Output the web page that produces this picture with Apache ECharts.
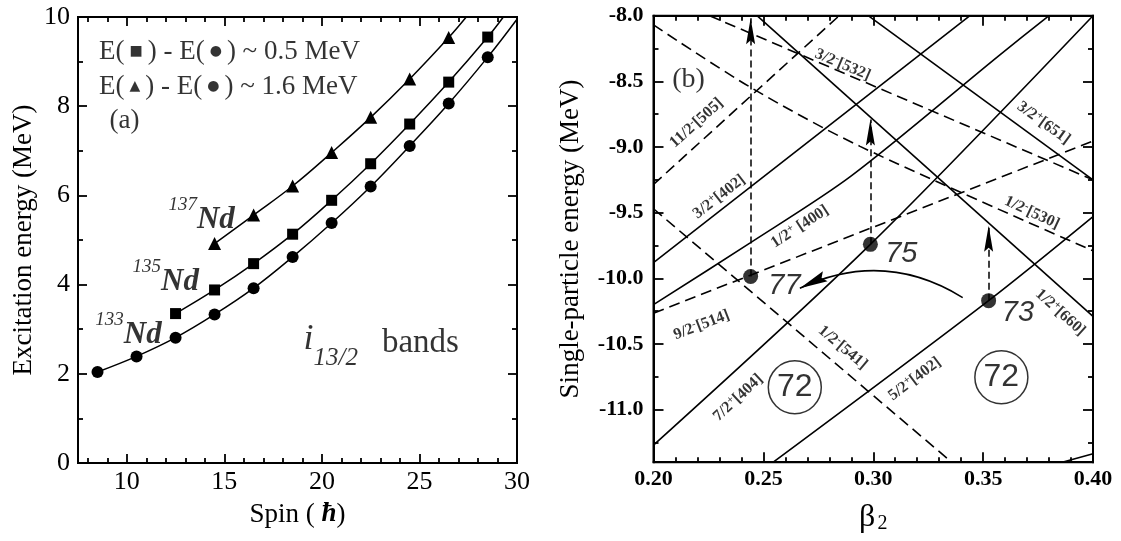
<!DOCTYPE html>
<html><head><meta charset="utf-8">
<script src="https://cdn.jsdelivr.net/npm/echarts@6/dist/echarts.min.js"></script>
<style>html,body{margin:0;padding:0;background:#fff}#c{width:1121px;height:541px}</style>
</head><body><div id="c"></div>
<script>
// ---------- Panel (a): i13/2 bands ----------
const spin133 = [8.5, 10.5, 12.5, 14.5, 16.5, 18.5, 20.5, 22.5, 24.5, 26.5, 28.5];
const e133    = [2.04, 2.39, 2.81, 3.33, 3.92, 4.62, 5.38, 6.20, 7.11, 8.06, 9.10];
const spin135 = [12.5, 14.5, 16.5, 18.5, 20.5, 22.5, 24.5, 26.5, 28.5];
const e135    = [3.35, 3.88, 4.47, 5.13, 5.89, 6.71, 7.60, 8.54, 9.55];
const spin137 = [14.5, 16.5, 18.5, 20.5, 22.5, 24.5, 26.5];
const e137    = [4.92, 5.56, 6.21, 6.96, 7.75, 8.61, 9.54];
// where each curve leaves the frame
const exit133 = [30, 9.95];
const exit135 = [29.3, 10];
const exit137 = [27.4, 10];
const spinLabels = [10, 15, 20, 25, 30];
const spinMajorTicks = [10, 15, 20, 25];
const spinMinorTicks = [8, 9, 11, 12, 13, 14, 16, 17, 18, 19, 21, 22, 23, 24, 26, 27, 28, 29];

// ---------- Panel (b): Nilsson levels (beta2, energy) ----------
const lv11_2m505 = [[0.20, -9.285], [0.2845, -8.0]];
const lv3_2m532  = [[0.2255, -8.0], [0.40, -9.25]];
const lv1_2m530  = [[0.20, -8.07], [0.244, -8.544], [0.294, -8.995], [0.40, -9.79]];
const lv1_2m541  = [[0.20, -9.47], [0.3357, -11.4]];
const lv9_2m514  = [[0.20, -10.265], [0.40, -8.955]];
const lv3_2p402  = [[0.20, -9.88], [0.344, -8.0]];
const lv1_2p400  = [[0.20, -10.2], [0.244, -9.73], [0.29, -9.22], [0.3575, -8.3], [0.38, -8.0]];
const lv7_2p404  = [[0.20, -11.27], [0.2987, -9.741], [0.40, -8.0]];
const lv5_2p402  = [[0.2545, -11.4], [0.3525, -10.17], [0.40, -9.53]];
const lvCorner   = [[0.386, -11.4], [0.40, -11.335]];
const lv3_2p651  = [[0.2977, -8.0], [0.40, -9.25]];
const lv1_2p660  = [[0.2471, -8.0], [0.40, -10.29]];
const dashedLevels = [lv11_2m505, lv3_2m532, lv1_2m530, lv1_2m541, lv9_2m514];
const solidLevels  = [lv3_2p402, lv1_2p400, lv7_2p404, lv5_2p402, lvCorner, lv3_2p651, lv1_2p660];

const levelNames = ['3/2{s|-}[532]', '11/2{s|-}[505]', '3/2{s|+}[402]', '1/2{s|+} [400]', '9/2{s|-}[514]',
  '7/2{s|+}[404]', '1/2{s|-}[541]', '5/2{s|+}[402]', '1/2{s|-}[530]', '3/2{s|+}[651]', '1/2{s|+}[660]'];
const levelLabelAt = [[0.2861, -8.373], [0.2196, -8.817], [0.2299, -9.379], [0.2666, -9.607], [0.2219, -10.356],
  [0.2385, -10.910], [0.2861, -10.527], [0.3189, -10.766], [0.3722, -9.500], [0.3775, -8.817], [0.3851, -10.26]];
const levelLabelAngle = [-23, 42, 38, 33, 21, 43, -40, 37, -25, -36, -42];

const dotNames = ['77', '75', '73'];
const dotPos = [[0.2442, -9.986], [0.2987, -9.741], [0.3525, -10.17]];
const dotLabelAt = [[0.2520, -10.058], [0.3052, -9.817], [0.3583, -10.26]];
const arrowTips = [[0.2442, -8.02], [0.2987, -8.79], [0.3525, -9.60]];
const curveTip = [0.2666, -10.075];
const curveTail = [0.3407, -10.146];
const circled = [[0.2643, -10.83], [0.3583, -10.753]];
const eTicksMajor = [-11, -10.5, -10, -9.5, -9, -8.5];
const eLabels = [-11, -10.5, -10, -9.5, -9, -8.5, -8];
const eTicksMinor = [-11.25, -10.75, -10.25, -9.75, -9.25, -8.75, -8.25];

const K = '#000';
const serif = 'Liberation Serif';
const sans = '"Liberation Sans Narrow", "Liberation Sans", sans-serif';
function tickLine() { return {color: K, width: 1.8}; }
function axis(o) {
  const base = {type: 'value', axisLine: {show: true, onZero: false, lineStyle: {color: K, width: 2}},
    splitLine: {show: false}, axisLabel: {show: false}, axisTick: {show: false}};
  return Object.assign(base, o);
}
function ticks(len, custom) {
  const t = {show: true, inside: true, length: len, lineStyle: tickLine()};
  if (custom) t.customValues = custom;
  return t;
}
const arrowPath = 'path://M-26,-26 M26,26 M0,0 L4.5,26 L0,22 L-4.5,26 Z';
const arrowPath2 = 'path://M-28,-28 M28,28 M0,0 L5.5,28 L0,24 L-5.5,28 Z';

const xAxis = [
  axis({gridIndex: 0, position: 'bottom', min: 7.5, max: 30, axisTick: ticks(9, spinMajorTicks),
    axisLabel: {show: true, customValues: spinLabels, margin: 6, fontFamily: serif, fontSize: 26, color: K},
    name: 'Spin ( {h|ħ})', nameLocation: 'middle', nameGap: 38,
    nameTextStyle: {fontFamily: serif, fontSize: 27, color: K, rich: {h: {fontFamily: serif, fontSize: 27, fontStyle: 'italic', fontWeight: 'bold'}}}}),
  axis({gridIndex: 0, position: 'bottom', min: 7.5, max: 30, axisTick: ticks(5, spinMinorTicks)}),
  axis({gridIndex: 0, position: 'top', min: 7.5, max: 30, axisTick: ticks(9, spinMajorTicks)}),
  axis({gridIndex: 0, position: 'top', min: 7.5, max: 30, axisTick: ticks(5, spinMinorTicks)}),
  axis({gridIndex: 1, position: 'bottom', min: 0.2, max: 0.4, interval: 0.05, axisTick: ticks(10),
    minorTick: {show: true, splitNumber: 5, length: 5, lineStyle: tickLine()},
    axisLabel: {show: true, margin: 6, fontFamily: serif, fontWeight: 'bold', fontSize: 22, color: K, formatter: v => v.toFixed(2)},
    name: 'β{s|2}', nameLocation: 'middle', nameGap: 38,
    nameTextStyle: {fontFamily: serif, fontSize: 32, color: K, rich: {s: {fontFamily: serif, fontSize: 20, verticalAlign: 'bottom', padding: [14, 0, 0, 2]}}}}),
  axis({gridIndex: 1, position: 'top', min: 0.2, max: 0.4, interval: 0.05, axisTick: ticks(10),
    minorTick: {show: true, splitNumber: 5, length: 5, lineStyle: tickLine()}})
];
const yAxis = [
  axis({gridIndex: 0, position: 'left', min: 0, max: 10, interval: 2, axisTick: ticks(9),
    minorTick: {show: true, splitNumber: 2, length: 5, lineStyle: tickLine()},
    axisLabel: {show: true, margin: 8, fontFamily: serif, fontSize: 26, color: K},
    name: 'Excitation energy (MeV)', nameLocation: 'middle', nameGap: 41,
    nameTextStyle: {fontFamily: serif, fontSize: 27, color: K}}),
  axis({gridIndex: 0, position: 'right', min: 0, max: 10, interval: 2, axisTick: ticks(9),
    minorTick: {show: true, splitNumber: 2, length: 5, lineStyle: tickLine()}}),
  axis({gridIndex: 1, position: 'left', min: -11.4, max: -8, axisTick: ticks(10, eTicksMajor),
    axisLabel: {show: true, customValues: eLabels, margin: 10, fontFamily: serif, fontWeight: 'bold', fontSize: 22, color: K, formatter: v => v.toFixed(1)},
    name: 'Single-particle energy (MeV)', nameLocation: 'middle', nameGap: 69,
    nameTextStyle: {fontFamily: serif, fontSize: 27, color: K}}),
  axis({gridIndex: 1, position: 'left', min: -11.4, max: -8, axisTick: ticks(5, eTicksMinor)}),
  axis({gridIndex: 1, position: 'right', min: -11.4, max: -8, axisTick: ticks(10, eTicksMajor)}),
  axis({gridIndex: 1, position: 'right', min: -11.4, max: -8, axisTick: ticks(5, eTicksMinor)})
];

function band(spins, es, exit, symbol, size) {
  const data = spins.map((s, i) => [s, es[i]]);
  data.push({value: exit, symbol: 'none'});
  return {type: 'line', xAxisIndex: 0, yAxisIndex: 0, data: data, smooth: 0.4, symbol: symbol,
    symbolSize: size, showAllSymbol: true, lineStyle: {color: K, width: 1.5}, itemStyle: {color: K},
    clip: true, silent: true, z: 3};
}
function level(pts, dashed) {
  return {type: 'line', xAxisIndex: 4, yAxisIndex: 2, data: pts, symbol: 'none',
    smooth: pts.length > 2 ? 0.3 : false,
    lineStyle: {color: K, width: 1.6, type: dashed ? [11, 6] : 'solid'}, clip: true, silent: true, z: 2};
}
function notes(xi, yi, items, labelBase) {
  return {type: 'scatter', xAxisIndex: xi, yAxisIndex: yi, symbolSize: 1, silent: true, z: 6,
    itemStyle: {color: 'rgba(0,0,0,0)'},
    label: Object.assign({show: true, color: K}, labelBase),
    data: items};
}

const series = [
  band(spin133, e133, exit133, 'circle', 12),
  band(spin135, e135, exit135, 'rect', 11),
  band(spin137, e137, exit137, 'triangle', 13),
  notes(0, 0, [
    {value: [8.55, 9.22], label: {formatter: 'E({s|■}) - E({s|●}) ~ 0.5 MeV'}},
    {value: [8.55, 8.44], label: {formatter: 'E({s|▲}) - E({s|●}) ~ 1.6 MeV'}},
    {value: [9.09, 7.68], label: {formatter: '(a)'}}
  ], {position: 'right', distance: 0, fontFamily: serif, fontSize: 27,
      rich: {s: {fontFamily: 'DejaVu Sans', fontSize: 14, padding: [0, 5, 0, 5]}}}),
  notes(0, 0, [
    {value: [12.11, 5.54], label: {formatter: '{u|137}{n|Nd}'}},
    {value: [10.27, 4.15], label: {formatter: '{u|135}{n|Nd}'}},
    {value: [8.36, 2.96], label: {formatter: '{u|133}{n|Nd}'}}
  ], {position: 'right', distance: 0, fontFamily: serif, fontSize: 30,
      rich: {u: {fontFamily: serif, fontSize: 19, fontStyle: 'italic', verticalAlign: 'top', lineHeight: 40},
             n: {fontFamily: serif, fontSize: 31, fontStyle: 'italic', fontWeight: 'bold', verticalAlign: 'bottom', lineHeight: 40}}}),
  notes(0, 0, [
    {value: [19.03, 2.62], label: {formatter: '{i|i}{d|13/2}{b|bands}'}}
  ], {position: 'right', distance: 0, fontFamily: serif, fontSize: 32,
      rich: {i: {fontFamily: serif, fontSize: 36, fontStyle: 'italic', verticalAlign: 'top', lineHeight: 50},
             d: {fontFamily: serif, fontSize: 25, fontStyle: 'italic', verticalAlign: 'bottom', lineHeight: 50},
             b: {fontFamily: serif, fontSize: 33, verticalAlign: 'top', lineHeight: 50, padding: [6, 0, 0, 24]}}})
];
dashedLevels.forEach(p => series.push(level(p, true)));
solidLevels.forEach(p => series.push(level(p, false)));
series.push(notes(4, 2, levelLabelAt.map((p, i) => ({value: p, label: {formatter: levelNames[i], rotate: levelLabelAngle[i]}})),
  {position: 'inside', fontFamily: serif, fontWeight: 'bold', fontSize: 16, lineHeight: 18,
   rich: {s: {fontFamily: serif, fontWeight: 'bold', fontSize: 11, verticalAlign: 'top', lineHeight: 18}}}));
series.push({type: 'lines', coordinateSystem: 'cartesian2d', xAxisIndex: 4, yAxisIndex: 2, silent: true, z: 4,
  symbol: ['none', arrowPath], symbolSize: 52,
  lineStyle: {color: K, width: 1.5, type: [7, 4], opacity: 1},
  data: dotPos.map((p, i) => ({coords: [p, arrowTips[i]]}))});
series.push({type: 'lines', coordinateSystem: 'cartesian2d', xAxisIndex: 4, yAxisIndex: 2, silent: true, z: 4,
  symbol: [arrowPath2, 'none'], symbolSize: 56,
  lineStyle: {color: K, width: 1.5, opacity: 1, curveness: 0.27},
  data: [{coords: [curveTip, curveTail]}]});
series.push({type: 'scatter', xAxisIndex: 4, yAxisIndex: 2, symbol: 'circle', symbolSize: 15, silent: true, z: 5,
  itemStyle: {color: K}, data: dotPos});
series.push(notes(4, 2, dotLabelAt.map((p, i) => ({value: p, label: {formatter: dotNames[i]}})),
  {position: 'right', distance: 0, fontFamily: sans, fontStyle: 'italic', fontSize: 29}));
series.push({type: 'scatter', xAxisIndex: 4, yAxisIndex: 2, symbol: 'circle', symbolSize: 53, silent: true, z: 5,
  itemStyle: {color: 'rgba(0,0,0,0)', borderColor: K, borderWidth: 1.5},
  label: {show: true, position: 'inside', formatter: '72', fontFamily: sans, fontSize: 32, color: K},
  data: circled});
series.push(notes(4, 2, [{value: [0.2083, -8.488], label: {formatter: '(b)'}}],
  {position: 'right', distance: 0, fontFamily: serif, fontSize: 28}));

const option = {
  animation: false,
  backgroundColor: '#fff',
  grid: [
    {left: 78, top: 17, width: 439, height: 446, show: true, borderColor: K, borderWidth: 2, outerBoundsMode: 'none', containLabel: false},
    {left: 653.5, top: 15.7, width: 439.5, height: 446.5, show: true, borderColor: K, borderWidth: 2, outerBoundsMode: 'none', containLabel: false}
  ],
  xAxis: xAxis,
  yAxis: yAxis,
  series: series
};
const chart = echarts.init(document.getElementById('c'), null, {renderer: 'canvas'});
chart.setOption(option);
</script>
</body></html>
